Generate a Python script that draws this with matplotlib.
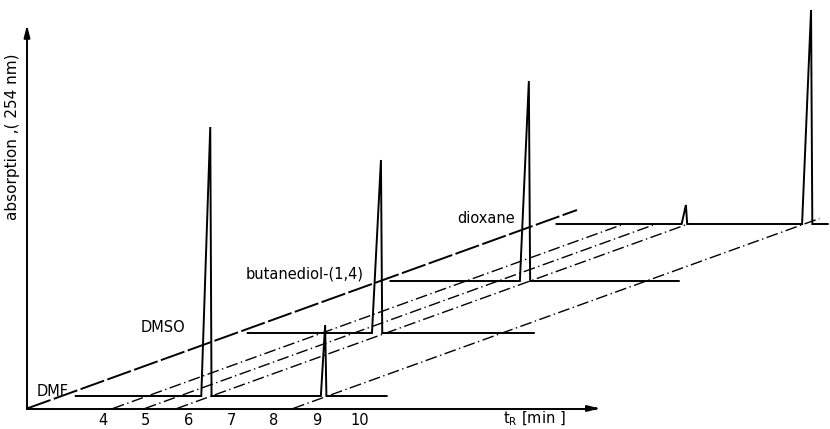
import numpy as np
import matplotlib.pyplot as plt

plt.rcParams['lines.scale_dashes'] = False

# one chromatogram per injected solvent, stacked in depth (oblique view)
samples = ['DMF', 'DMSO', 'butanediol-(1,4)', 'dioxane']
depths = [12.5, 75.5, 127.5, 184.5]
run_start = [2.55, 2.49, 2.46, 2.65]
run_end = [9.83, 9.19, 9.21, 9.00]
peak_times = [[5.70, 8.39], [5.61], [5.70], [5.68, 8.61]]
peak_heights = [[269, 71], [173], [200], [19, 214]]

# retention time guide lines through the stack
guide_times = [4.23, 4.98, 5.73, 8.45]
guide_depths = [184.5, 184.5, 184.5, 190.0]
depth_axis = [0.0, 198.5]

tick_minutes = [4, 5, 6, 7, 8, 9, 10]

label_pos = [(2.45, 16.5), (4.87, 81.5), (7.33, 134.5), (12.29, 190.0)]

kx = 2.77 / 42.7   # horizontal shift (min) per unit of depth
t0 = 2.22


def proj(t, depth, h=0.0):
    return np.asarray(t) + kx * depth, np.asarray(h) + depth


def trace(i):
    t = [run_start[i]]
    h = [0.0]
    for tp, hp in zip(peak_times[i], peak_heights[i]):
        wl = 0.21 if hp > 100 else 0.1
        t += [tp - wl, tp, tp + 0.03]
        h += [0.0, hp, 0.0]
    t.append(run_end[i])
    h.append(0.0)
    return proj(np.array(t), depths[i], np.array(h))


fig = plt.figure(figsize=(8.3, 4.29), dpi=100)
ax = fig.add_axes([27 / 830, 20.5 / 429, 568 / 830, 378.5 / 429])
ax.set_xlim(t0, 15.52)
ax.set_ylim(0, 378.5)

for sp in ['top', 'right']:
    ax.spines[sp].set_visible(False)
for sp in ['left', 'bottom']:
    ax.spines[sp].set_linewidth(1.4)

# arrow heads on the axes
ax.annotate('', xy=(1.013, 0), xytext=(0.995, 0), xycoords='axes fraction',
            arrowprops=dict(arrowstyle='-|>,head_length=0.7,head_width=0.18', color='k', lw=1.4))
ax.annotate('', xy=(0, 1.02), xytext=(0, 0.99), xycoords='axes fraction',
            arrowprops=dict(arrowstyle='-|>,head_length=0.7,head_width=0.18', color='k', lw=1.4))

# depth axis
x, y = proj([t0, t0], np.array(depth_axis))
ax.plot(x, y, color='k', lw=1.4, ls=(0, (18, 2.5)), clip_on=False)

# dash-dot guides
for tg, dg in zip(guide_times, guide_depths):
    x, y = proj([tg, tg], np.array([0.0, dg]))
    ax.plot(x, y, color='k', lw=1.0, ls=(0, (8.5, 2.5, 1, 2.5)), clip_on=False)

for i in range(len(samples)):
    x, y = trace(i)
    ax.plot(x, y, color='k', lw=1.4, solid_joinstyle='miter', clip_on=False)
    ax.text(label_pos[i][0], label_pos[i][1], samples[i], fontsize=10.5,
            ha='left', va='center')

ax.set_xticks(tick_minutes)
ax.set_xticklabels([str(m) for m in tick_minutes], fontsize=10.5)
ax.tick_params(axis='x', length=0, pad=3)
ax.set_yticks([])

ax.set_ylabel('absorption ,( 254 nm)', fontsize=11)
ax.yaxis.set_label_coords(-0.012, 0.717)
ax.text(13.37, -10, 't$_\\mathrm{R}$ [min ]', fontsize=10.5, ha='left', va='center',
        clip_on=False)

fig.savefig('out.png', dpi=100)
